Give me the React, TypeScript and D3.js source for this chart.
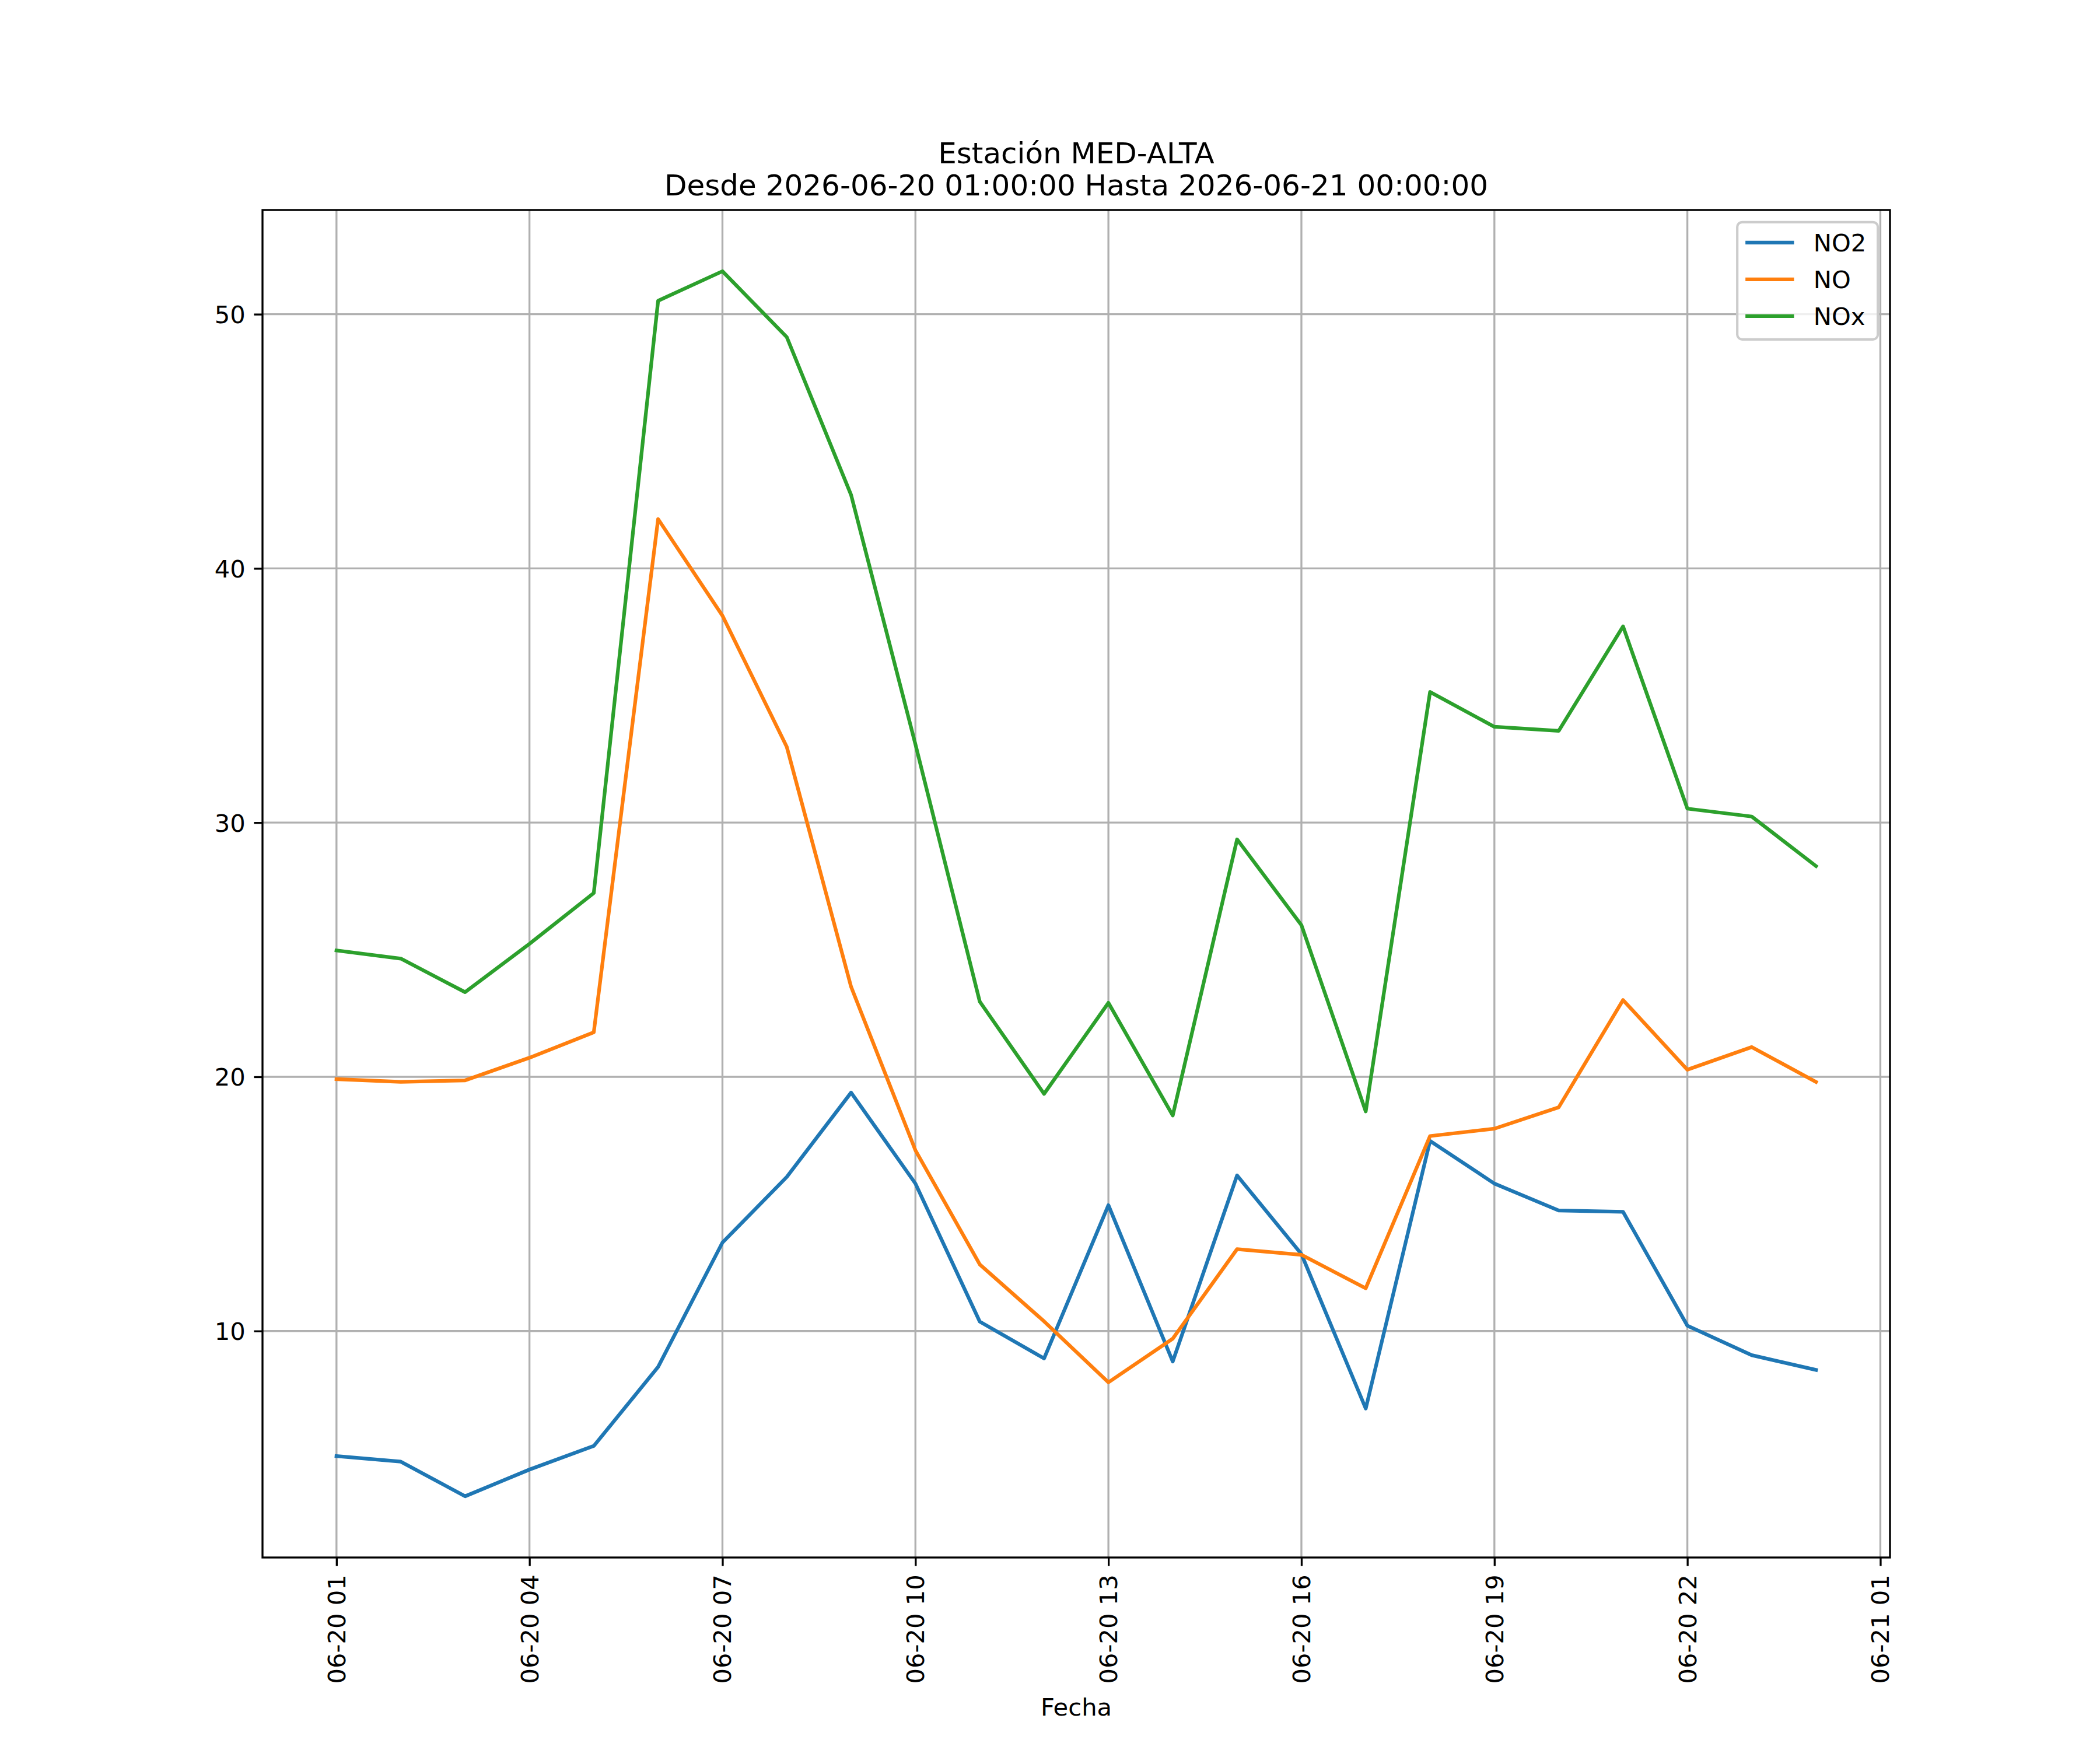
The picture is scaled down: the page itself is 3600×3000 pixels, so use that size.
import React, { useEffect, useRef } from 'react';
import * as d3 from 'd3';

const times = [
  '2026-06-20 01:00', '2026-06-20 02:00', '2026-06-20 03:00', '2026-06-20 04:00',
  '2026-06-20 05:00', '2026-06-20 06:00', '2026-06-20 07:00', '2026-06-20 08:00',
  '2026-06-20 09:00', '2026-06-20 10:00', '2026-06-20 11:00', '2026-06-20 12:00',
  '2026-06-20 13:00', '2026-06-20 14:00', '2026-06-20 15:00', '2026-06-20 16:00',
  '2026-06-20 17:00', '2026-06-20 18:00', '2026-06-20 19:00', '2026-06-20 20:00',
  '2026-06-20 21:00', '2026-06-20 22:00', '2026-06-20 23:00', '2026-06-21 00:00',
];

const no2 = [
  5.08, 4.86, 3.5, 4.55, 5.48, 8.59, 13.48, 16.06, 19.38, 15.8, 10.37, 8.92,
  14.95, 8.8, 16.12, 13.03, 6.95, 17.48, 15.8, 14.74, 14.69, 10.21, 9.05, 8.47,
];

const no = [
  19.91, 19.8, 19.86, 20.75, 21.75, 41.94, 38.14, 32.98, 23.54, 17.11, 12.62, 10.38,
  7.98, 9.7, 13.22, 13.0, 11.68, 17.67, 17.96, 18.8, 23.02, 20.28, 21.17, 19.8,
];

const nox = [
  24.97, 24.65, 23.33, 25.23, 27.23, 50.53, 51.69, 49.1, 42.89, 33.08, 22.96, 19.33,
  22.91, 18.48, 29.34, 25.97, 18.64, 35.14, 33.77, 33.61, 37.72, 30.55, 30.24, 28.29,
];

const seriesNames = ['NO2', 'NO', 'NOx'];
const seriesColors = ['#1f77b4', '#ff7f0e', '#2ca02c'];

const xTicks = [
  '2026-06-20 01:00', '2026-06-20 04:00', '2026-06-20 07:00', '2026-06-20 10:00',
  '2026-06-20 13:00', '2026-06-20 16:00', '2026-06-20 19:00', '2026-06-20 22:00',
  '2026-06-21 01:00',
];
const yTicks = [10, 20, 30, 40, 50];

const titleLines = ['Estación MED-ALTA', 'Desde 2026-06-20 01:00:00 Hasta 2026-06-21 00:00:00'];
const xLabel = 'Fecha';

const W = 3600;
const H = 3000;
const pt = 300 / 72;
const margin = { left: 450, right: 360, top: 360, bottom: 330 };
const FONT = 'DejaVu Sans';

const App: React.FC = () => {
  const ref = useRef<SVGSVGElement>(null);

  useEffect(() => {
    if (!ref.current) return;
    const root = d3.select(ref.current);
    root.selectAll('*').remove();

    const parse = d3.timeParse('%Y-%m-%d %H:%M');
    const dates = times.map((t) => parse(t) as Date);
    const width = W - margin.left - margin.right;
    const height = H - margin.top - margin.bottom;

    root.append('rect').attr('width', W).attr('height', H).attr('fill', 'white');

    const svg = root.append('g').attr('transform', `translate(${margin.left},${margin.top})`);

    const [t0, t1] = d3.extent(dates) as [Date, Date];
    const dt = (+t1 - +t0) * 0.05;
    const x = d3
      .scaleTime()
      .domain([new Date(+t0 - dt), new Date(+t1 + dt)])
      .range([0, width]);

    const all = [...no2, ...no, ...nox];
    const lo = d3.min(all)!;
    const hi = d3.max(all)!;
    const dv = (hi - lo) * 0.05;
    const y = d3.scaleLinear().domain([lo - dv, hi + dv]).range([height, 0]);

    const tickDates = xTicks.map((t) => parse(t) as Date);
    const tickLen = 3.5 * pt;
    const tickPad = 3.5 * pt;
    const fs = 10 * pt;

    // grid
    svg
      .append('g')
      .selectAll('line')
      .data(tickDates)
      .enter()
      .append('line')
      .attr('x1', (d) => x(d))
      .attr('x2', (d) => x(d))
      .attr('y1', 0)
      .attr('y2', height)
      .attr('stroke', '#b0b0b0')
      .attr('stroke-width', 0.8 * pt);

    svg
      .append('g')
      .selectAll('line')
      .data(yTicks)
      .enter()
      .append('line')
      .attr('x1', 0)
      .attr('x2', width)
      .attr('y1', (d) => y(d))
      .attr('y2', (d) => y(d))
      .attr('stroke', '#b0b0b0')
      .attr('stroke-width', 0.8 * pt);

    // lines
    const values = [no2, no, nox];
    values.forEach((vals, i) => {
      const line = d3
        .line<number>()
        .x((_, j) => x(dates[j]))
        .y((d) => y(d));
      svg
        .append('path')
        .datum(vals)
        .attr('fill', 'none')
        .attr('stroke', seriesColors[i])
        .attr('stroke-width', 1.5 * pt)
        .attr('stroke-linejoin', 'round')
        .attr('stroke-linecap', 'square')
        .attr('d', line);
    });

    // axes
    const xAxis = svg
      .append('g')
      .attr('transform', `translate(0,${height})`)
      .call(
        d3
          .axisBottom(x)
          .tickValues(tickDates)
          .tickSize(tickLen)
          .tickSizeOuter(0)
          .tickFormat((d) => d3.timeFormat('%m-%d %H')(d as Date))
      );
    xAxis.select('.domain').remove();
    xAxis.selectAll('line').attr('stroke', 'black').attr('stroke-width', 0.8 * pt);
    xAxis
      .selectAll('text')
      .attr('x', 0)
      .attr('y', 0)
      .attr('dy', null)
      .attr('transform', `translate(0,${tickLen + tickPad}) rotate(-90)`)
      .attr('text-anchor', 'end')
      .attr('dominant-baseline', 'central')
      .attr('fill', 'black')
      .style('font-family', FONT)
      .style('font-size', `${fs}px`);

    const yAxis = svg
      .append('g')
      .call(d3.axisLeft(y).tickValues(yTicks).tickSize(tickLen).tickPadding(tickPad).tickSizeOuter(0));
    yAxis.select('.domain').remove();
    yAxis.selectAll('line').attr('stroke', 'black').attr('stroke-width', 0.8 * pt);
    yAxis
      .selectAll('text')
      .attr('dy', '0.36em')
      .attr('fill', 'black')
      .style('font-family', FONT)
      .style('font-size', `${fs}px`);

    // spines
    svg
      .append('rect')
      .attr('width', width)
      .attr('height', height)
      .attr('fill', 'none')
      .attr('stroke', 'black')
      .attr('stroke-width', 0.8 * pt);

    // title
    const title = svg
      .append('text')
      .attr('x', width / 2)
      .attr('text-anchor', 'middle')
      .style('font-family', FONT)
      .style('font-size', `${12 * pt}px`);
    title.append('tspan').attr('x', width / 2).attr('y', -6 * pt - 55).text(titleLines[0]);
    title.append('tspan').attr('x', width / 2).attr('y', -6 * pt).text(titleLines[1]);

    // x label
    svg
      .append('text')
      .attr('x', width / 2)
      .attr('y', height + 271)
      .attr('text-anchor', 'middle')
      .style('font-family', FONT)
      .style('font-size', `${fs}px`)
      .text(xLabel);

    // legend
    const lg = svg.append('g').attr('transform', `translate(${width - 0.5 * fs},${0.5 * fs})`);
    const lw = 241;
    const lh = 201;
    lg.append('rect')
      .attr('x', -lw)
      .attr('y', 0)
      .attr('width', lw)
      .attr('height', lh)
      .attr('rx', 0.2 * fs)
      .attr('fill', 'white')
      .attr('fill-opacity', 0.8)
      .attr('stroke', '#cccccc')
      .attr('stroke-width', 1 * pt);
    seriesNames.forEach((name, i) => {
      const cy = 35 + i * 63;
      lg.append('line')
        .attr('x1', -lw + 14)
        .attr('x2', -lw + 14 + 2 * fs)
        .attr('y1', cy)
        .attr('y2', cy)
        .attr('stroke', seriesColors[i])
        .attr('stroke-width', 1.5 * pt);
      lg.append('text')
        .attr('x', -lw + 14 + 2 * fs + 0.8 * fs)
        .attr('y', cy)
        .attr('dy', '0.36em')
        .style('font-family', FONT)
        .style('font-size', `${fs}px`)
        .text(name);
    });
  }, []);

  return (
    <svg
      ref={ref}
      width={W}
      height={H}
      style={{ position: 'absolute', left: 0, top: 0, display: 'block' }}
    />
  );
};

export default App;
